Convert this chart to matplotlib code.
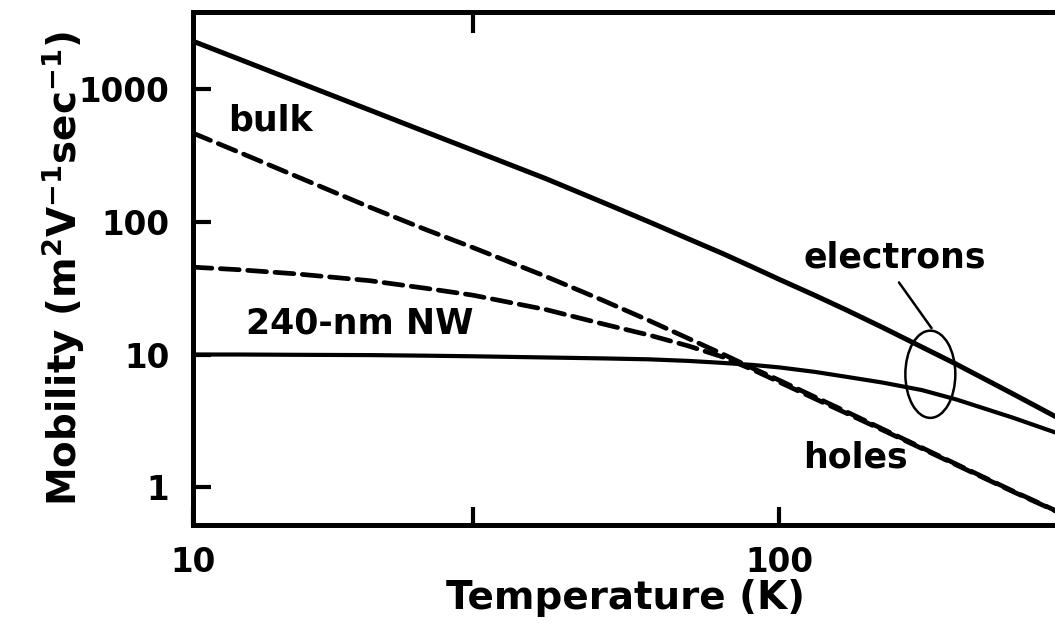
import numpy as np
import matplotlib
matplotlib.use('Agg')
import matplotlib.pyplot as plt
from matplotlib.patches import Ellipse

# temperature grid (K)
TEMPS = [10, 12, 15, 20, 25, 30, 40, 50, 60, 70, 80, 90, 100, 115, 130, 150, 175, 200, 250, 300]

# mobilities
BULK_ELECTRONS = [2290, 1675, 1140, 695, 473, 346, 211, 140, 99.7, 74.3, 57.7, 45.6, 36.8,
                  27.9, 21.7, 16.0, 11.4, 8.5, 5.07, 3.3]
BULK_HOLES = [465, 333, 220, 129, 87, 64, 38.7, 25.6, 18.0, 13.2, 10.1, 7.9, 6.4,
              4.79, 3.72, 2.75, 1.99, 1.50, 0.94, 0.65]
NW_ELECTRONS = [10.0, 10.0, 9.95, 9.9, 9.8, 9.7, 9.5, 9.35, 9.2, 8.95, 8.65, 8.35, 8.0,
                7.4, 6.8, 6.15, 5.4, 4.6, 3.35, 2.53]
NW_HOLES = [45.5, 43.5, 40.5, 36, 31.5, 28, 21.8, 17.0, 14.0, 11.6, 9.6, 7.7, 6.2,
            4.65, 3.62, 2.7, 1.96, 1.48, 0.93, 0.645]

X_TICKS = [10, 30, 100]
X_TICK_LABELS = ['10', '', '100']
Y_TICKS = [1, 10, 100, 1000]
Y_TICK_LABELS = ['1', '10', '100', '1000']

FONT = 'DejaVu Sans'
plt.rcParams['font.family'] = FONT
plt.rcParams['font.weight'] = 'bold'
plt.rcParams['axes.labelweight'] = 'bold'
plt.rcParams['mathtext.default'] = 'bf'

SPINE_W = 3.6
DASH = (4, 1.8)


def main():
    fig = plt.figure(figsize=(10.55, 6.23), dpi=100)
    W, H = 1055, 623
    left, right, top, bottom = 193, 1059, 12, 525
    ax = fig.add_axes([left / W, (H - bottom) / H, (right - left) / W, (bottom - top) / H])

    ax.plot(TEMPS, BULK_ELECTRONS, color='k', lw=3.6, solid_capstyle='butt')
    ax.plot(TEMPS, NW_ELECTRONS, color='k', lw=3.0, solid_capstyle='butt')
    ax.plot(TEMPS, BULK_HOLES, color='k', lw=3.4, dashes=DASH, dash_capstyle='round')
    ax.plot(TEMPS, NW_HOLES, color='k', lw=3.4, dashes=DASH, dash_capstyle='round')

    ax.set_xscale('log')
    ax.set_yscale('log')
    ax.set_xlim(10, 300)
    ax.set_ylim(0.52, 3800)

    ax.set_xticks(X_TICKS)
    ax.set_xticklabels(X_TICK_LABELS)
    ax.set_yticks(Y_TICKS)
    ax.set_yticklabels(Y_TICK_LABELS)
    ax.minorticks_off()
    ax.tick_params(direction='in', length=13, width=3, labelsize=23.5, pad=17)
    ax.tick_params(axis='x', pad=15)

    for s in ax.spines.values():
        s.set_linewidth(SPINE_W)

    sec = ax.secondary_xaxis('top')
    sec.set_xticks([30])
    sec.minorticks_off()
    sec.tick_params(direction='in', length=15, width=3, labeltop=False)
    sec.spines['top'].set_linewidth(SPINE_W)

    ax.set_xlabel('Temperature (K)', fontsize=28, fontweight='bold', labelpad=0)
    ax.set_ylabel(r'Mobility (m$^{2}$V$^{-1}$sec$^{-1}$)', fontsize=28, fontweight='bold', labelpad=-6)

    txt = dict(fontsize=25, fontweight='bold', ha='left', va='baseline')
    ax.text(11.5, 490, 'bulk', **txt)
    ax.text(12.3, 14.5, '240-nm NW', **txt)
    ax.text(110, 45.5, 'electrons', **txt)
    ax.text(110, 1.415, 'holes', **txt)

    # ellipse around the electron curves, sized in axes fraction
    cx, cy = ax.transAxes.inverted().transform(ax.transData.transform((181, 7.1)))
    ax.add_patch(Ellipse((cx, cy), 0.0577, 0.17, transform=ax.transAxes,
                         fill=False, edgecolor='k', lw=1.8))
    ax.annotate('', xy=(183, 15.2), xytext=(159, 36.3),
                arrowprops=dict(arrowstyle='-', color='k', lw=1.8))

    fig.savefig('out.png', dpi=100)


if __name__ == '__main__':
    main()
